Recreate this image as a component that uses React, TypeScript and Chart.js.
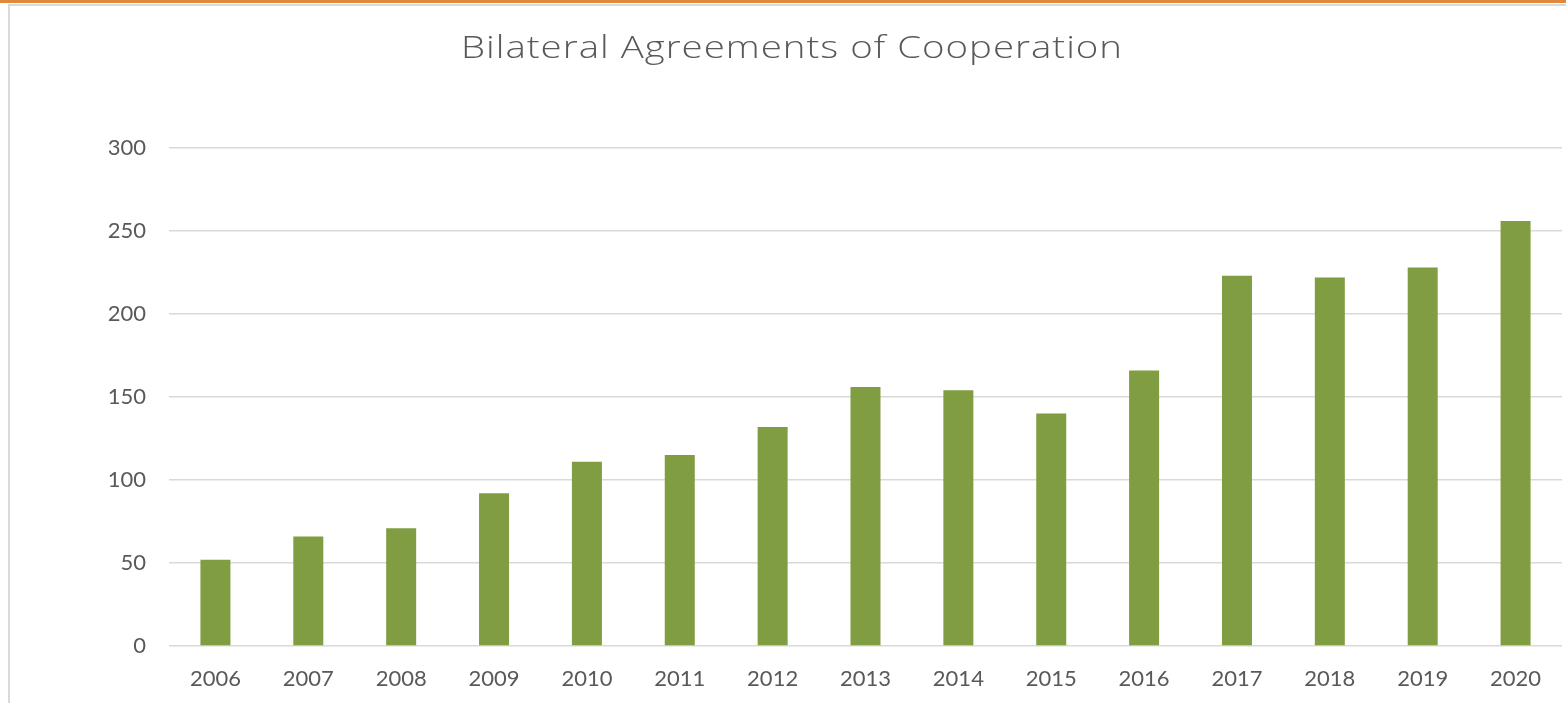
import React, { useEffect, useRef } from "react";
import { Chart, registerables } from "chart.js";

Chart.register(...registerables);

const years = ["2006", "2007", "2008", "2009", "2010", "2011", "2012", "2013", "2014", "2015", "2016", "2017", "2018", "2019", "2020"];
const agreements = [52, 66, 71, 92, 111, 115, 132, 156, 154, 140, 166, 223, 222, 228, 256];
const yTicks = [0, 50, 100, 150, 200, 250, 300];
const titleText = "Bilateral Agreements of Cooperation";

const FONT = "Lato, 'Liberation Sans', sans-serif";
const TITLE_FONT = "'Open Sans', 'DejaVu Sans', sans-serif";

const wideTitlePlugin = {
  id: "wideTitle",
  afterDraw(chart: any) {
    const ctx: CanvasRenderingContext2D = chart.ctx;
    ctx.save();
    ctx.font = `300 32px ${TITLE_FONT}`;
    ctx.fillStyle = "#595959";
    ctx.textAlign = "left";
    ctx.textBaseline = "alphabetic";
    const target = 661;
    const w0 = ctx.measureText(titleText).width;
    const sx = Math.min(1.2, target / w0);
    const ls = Math.max(0, (target / sx - w0) / (titleText.length - 1));
    (ctx as any).letterSpacing = `${ls}px`;
    const left = chart.width / 2 + 3.5 - target / 2;
    ctx.translate(left, 51.5);
    ctx.scale(sx, 1);
    ctx.fillText(titleText, 0, 0);
    ctx.restore();
  },
};

export default function App() {
  const canvasRef = useRef<HTMLCanvasElement | null>(null);

  useEffect(() => {
    const prevMargin = document.body.style.margin;
    document.body.style.margin = "0";
    const ctx = canvasRef.current!.getContext("2d")!;
    const chart = new Chart(ctx, {
      type: "bar",
      data: {
        labels: years,
        datasets: [
          {
            label: "Agreements",
            data: agreements,
            backgroundColor: "#809D41",
            borderWidth: 0,
            categoryPercentage: 1,
            barPercentage: 0.323,
          },
        ],
      },
      options: {
        animation: false,
        responsive: false,
        maintainAspectRatio: false,
        layout: { padding: { left: 0, right: 4, top: 142, bottom: 0 } },
        plugins: {
          legend: { display: false },
          tooltip: { enabled: false },
          title: { display: false, text: titleText },
        },
        scales: {
          x: {
            grid: { display: false, drawTicks: false },
            border: { display: false },
            ticks: {
              color: "#595959",
              font: { family: FONT, size: 22 },
              padding: 20,
              maxRotation: 0,
              autoSkip: false,
            },
            afterFit: (scale: any) => {
              scale.height = 57;
            },
          },
          y: {
            min: 0,
            max: 300,
            afterBuildTicks: (scale: any) => {
              scale.ticks = yTicks.map((v) => ({ value: v }));
            },
            grid: { color: "#D9D9D9", lineWidth: 1.5, drawTicks: false },
            border: { display: false },
            ticks: {
              color: "#595959",
              font: { family: FONT, size: 22 },
              padding: 23,
            },
            afterFit: (scale: any) => {
              scale.width = 159;
            },
          },
        },
      },
      plugins: [wideTitlePlugin],
    });
    return () => {
      chart.destroy();
      document.body.style.margin = prevMargin;
    };
  }, []);

  return (
    <div style={{ position: "absolute", left: 0, top: 0, width: 1566, height: 703, background: "#ffffff", overflow: "hidden" }}>
      <div style={{ position: "absolute", left: 0, top: 0, width: 1566, height: 3, background: "#E0883C" }} />
      <div style={{ position: "absolute", left: 8, top: 4, width: 1558, height: 2, background: "#D9D9D9" }} />
      <div style={{ position: "absolute", left: 8, top: 4, width: 2, height: 699, background: "#D9D9D9" }} />
      <canvas
        ref={canvasRef}
        width={1556}
        height={697}
        style={{ position: "absolute", left: 10, top: 6, width: 1556, height: 697 }}
      />
    </div>
  );
}
